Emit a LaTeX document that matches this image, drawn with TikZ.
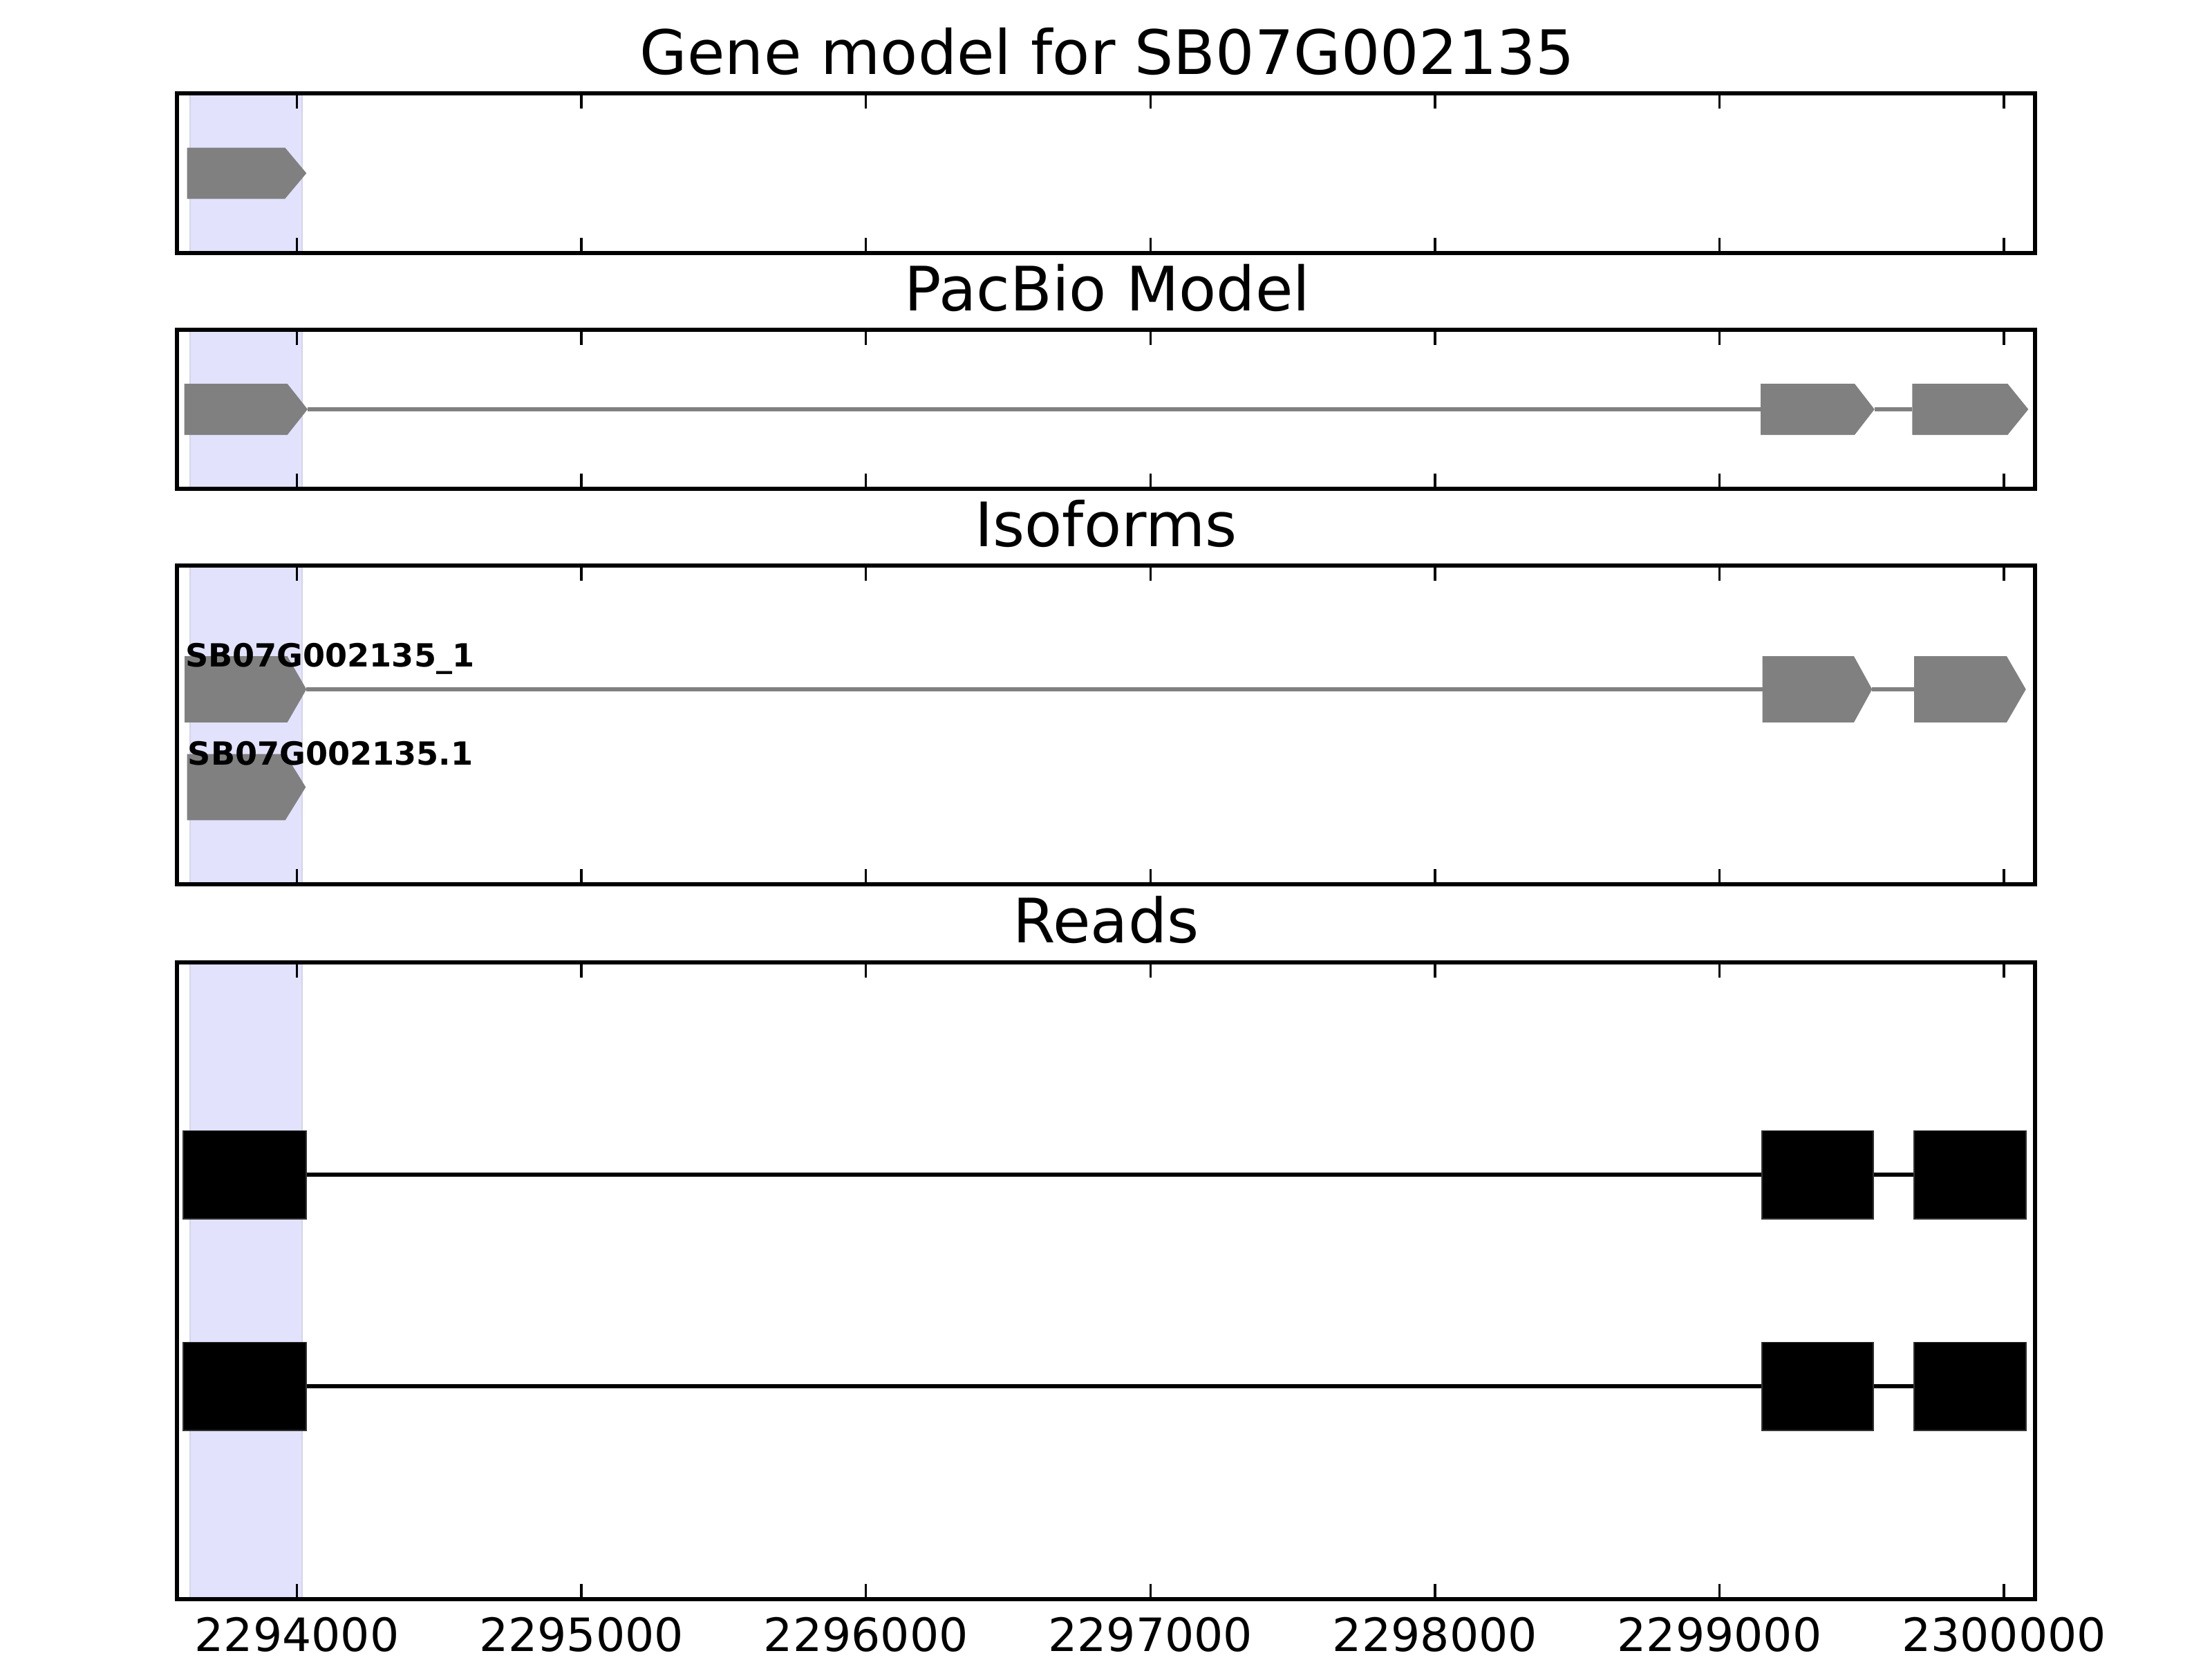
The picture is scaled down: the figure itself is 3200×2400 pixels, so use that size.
\documentclass[tikz,border=0pt]{standalone}
\usepackage{fontspec}
\setmainfont{DejaVu Sans}
\definecolor{mplgray}{RGB}{128,128,128}
\definecolor{bandfill}{RGB}{226,226,252}
\definecolor{bandedge}{RGB}{212,212,236}
\newcommand{\garrow}[5]{\fill[exonshape] (#1,#4-#5) -- (#2,#4-#5) -- (#3,#4) -- (#2,#4+#5) -- (#1,#4+#5) -- cycle;}
\newcommand{\rbox}[4]{\filldraw[readbox] (#1,#3-#4) rectangle (#2,#3+#4);}
\begin{document}
\begin{tikzpicture}[x=0.00635cm, y=-0.00635cm,
  frame/.style={draw=black, line width=1.1pt},
  tickmark/.style={draw=black, line width=0.6pt},
  exonshape/.style={fill=mplgray},
  intronline/.style={draw=mplgray, line width=1pt},
  readline/.style={draw=black, line width=1.1pt},
  readbox/.style={fill=black, draw=black!80, line width=0.3pt},
  band/.style={fill=bandfill, draw=bandedge, line width=0.4pt},
  ptitle/.style={anchor=base, inner sep=0pt, font=\fontsize{16}{19}\selectfont},
  ticklabel/.style={anchor=base, inner sep=0pt, font=\fontsize{12}{14}\selectfont},
  isolabel/.style={anchor=base west, inner sep=0pt, font=\fontsize{8.33}{10}\selectfont\bfseries}]
\fill[white] (0,0) rectangle (3200,2400);
\useasboundingbox (0,0) rectangle (3200,2400);

% highlight bands
\foreach \ya/\yb in {135/366, 477/707, 818/1279, 1392/2313}
  \filldraw[band] (275,\ya) rectangle (436.7,\yb);

% Panel 1: gene model
\garrow{270.7}{412.3}{443.3}{250.5}{37}

% Panel 2: PacBio model
\coordinate (pb1) at (445,592);
\coordinate (pb2) at (2547,592);
\coordinate (pb3) at (2711.7,592);
\coordinate (pb4) at (2766.3,592);
\draw[intronline] (pb1) -- (pb2);
\draw[intronline] (pb3) -- (pb4);
\garrow{266.7}{415.7}{445}{592}{37}
\garrow{2547}{2683}{2711.7}{592}{37}
\garrow{2766.3}{2904.3}{2934.3}{592}{37}

% Panel 3: isoforms
\coordinate (is1) at (443.3,997);
\coordinate (is2) at (2549.7,997);
\coordinate (is3) at (2708.3,997);
\coordinate (is4) at (2769,997);
\draw[intronline] (is1) -- (is2);
\draw[intronline] (is3) -- (is4);
\garrow{267}{415.7}{443.3}{997}{47.8}
\garrow{2549.7}{2682}{2708.3}{997}{47.8}
\garrow{2769}{2903}{2930.7}{997}{47.8}
\garrow{270.7}{412.7}{442.3}{1138.5}{47.8}
\node[isolabel] (lab1) at (267,964) {SB07G002135\_1};
\node[isolabel] (lab2) at (270.7,1106) {SB07G002135.1};

% Panel 4: reads
\foreach \yc/\nm in {1699/ra, 2005/rb} {
  \coordinate (\nm s) at (265.3,\yc);
  \coordinate (\nm e) at (2930.7,\yc);
  \draw[readline] (\nm s) -- (\nm e);
  \rbox{265.3}{442.7}{\yc}{63.7}
  \rbox{2549}{2709.7}{\yc}{63.7}
  \rbox{2769}{2930.7}{\yc}{63.7}
}

% ticks
\foreach \ya/\yb in {135/366, 477/707, 818/1279, 1392/2313}
  \foreach \t in {429.5,841.1,1252.7,1664.3,2075.9,2487.5,2899.1} {
    \draw[tickmark] (\t,\ya) -- ++(0,22);
    \draw[tickmark] (\t,\yb) -- ++(0,-22);
  }

% frames
\draw[frame] (256,135) rectangle (2944,366);
\draw[frame] (256,477) rectangle (2944,707);
\draw[frame] (256,818) rectangle (2944,1279);
\draw[frame] (256,1392) rectangle (2944,2313);

% titles
\node[ptitle] (t1) at (1602,107.3) {Gene model for SB07G002135};
\node[ptitle] (t2) at (1602,449.3) {PacBio Model};
\node[ptitle] (t3) at (1600,790.3) {Isoforms};
\node[ptitle] (t4) at (1600,1363.3) {Reads};

% tick labels
\foreach \t/\lbl in {429.5/2294000, 841.1/2295000, 1252.7/2296000, 1664.3/2297000, 2075.9/2298000, 2487.5/2299000, 2899.1/2300000}
  \node[ticklabel] at (\t,2388) {\lbl};
\end{tikzpicture}
\end{document}
